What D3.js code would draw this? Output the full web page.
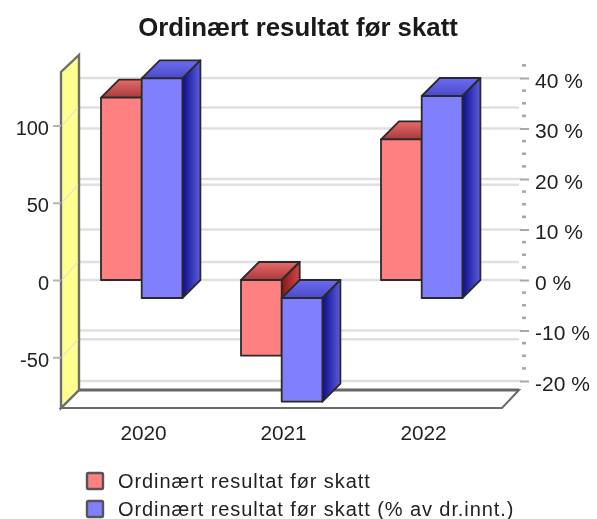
<!DOCTYPE html>
<html><head><meta charset="utf-8">
<script src="https://d3js.org/d3.v7.min.js"></script>
<style>html,body{margin:0;padding:0;background:#fff}svg{display:block;filter:blur(0.55px)}text{font-family:"Liberation Sans",Arial,sans-serif}</style>
</head><body><svg id="c" width="597" height="519"></svg>
<script>
const titleText = "Ordinært resultat før skatt";
const years = ["2020","2021","2022"];
const seriesNames = ["Ordinært resultat før skatt","Ordinært resultat før skatt (% av dr.innt.)"];
const resultValues = [118,-49,91];
const percentValues = [43.5,-20.5,40];
const leftTicks = [100,50,0,-50];
const rightTicks = [40,30,20,10,0,-10,-20];
const minorTicks = [42.5,37.5,35,32.5,27.5,25,22.5,17.5,15,12.5,7.5,5,2.5,-2.5,-5,-7.5,-12.5,-15,-17.5];

const svg = d3.select("#c");
const depth = 18;
const yL = d3.scaleLinear().domain([0,100]).range([280,125.5]);
const yR = d3.scaleLinear().domain([0,40]).range([280,78]);
const x = d3.scaleBand().domain(years).range([61,481]).paddingInner(0).paddingOuter(0);
const wallX = 61, floorY = 408, wallTop = 72, floorRight = 502;
const barW = 40.7;
const fmtMinus = d => String(d);
const defs = svg.append("defs");
function grad(id,c1,c2,horizontal){
  const g = defs.append("linearGradient").attr("id",id).attr("x1",0).attr("y1",0).attr("x2",horizontal?1:0).attr("y2",horizontal?0:1);
  g.append("stop").attr("offset",0).attr("stop-color",c1);
  g.append("stop").attr("offset",1).attr("stop-color",c2);
}
grad("redTop","#e86a6a","#a83a3a",false);
grad("redSide","#8a1616","#d04848",true);
grad("blueTop","#6c6cf0","#4a4ac8",false);
grad("blueSide","#0c0c8c","#5c5ce0",true);

// back-wall gridlines
const grid = svg.append("g").attr("stroke","#e0e0e0").attr("stroke-width",2.6);
rightTicks.forEach(t=>grid.append("line").attr("x1",wallX+depth).attr("x2",521).attr("y1",yR(t)).attr("y2",yR(t)));
leftTicks.forEach(t=>grid.append("line").attr("x1",wallX+depth).attr("x2",519).attr("y1",yL(t)-depth).attr("y2",yL(t)-depth));

// floor
svg.append("path").attr("d",`M${wallX},${floorY}L${wallX+depth},${floorY-depth}H${floorRight+depth-1}L${floorRight},${floorY}Z`)
  .attr("fill","#fff").attr("stroke","#6a6a6a").attr("stroke-width",2);
svg.append("line").attr("x1",wallX+depth).attr("x2",floorRight+depth-1).attr("y1",floorY-depth).attr("y2",floorY-depth).attr("stroke","#666").attr("stroke-width",3);

// side wall
svg.append("path").attr("d",`M${wallX},${floorY}V${wallTop}L${wallX+depth},${wallTop-depth+1}V${floorY-depth}Z`)
  .attr("fill","#ffff90").attr("stroke","#6e6e6e").attr("stroke-width",2.4);
leftTicks.forEach(t=>svg.append("line").attr("x1",wallX+1).attr("x2",wallX+depth-1).attr("y1",yL(t)).attr("y2",yL(t)-depth).attr("stroke","#e6e6c0").attr("stroke-width",1.2));

// bars
function bar(x0,y0,y1,front,top,side){
  const g = svg.append("g").attr("stroke","#2a2a2a").attr("stroke-width",1.8).attr("stroke-linejoin","round");
  const yTop=Math.min(y0,y1), yBot=Math.max(y0,y1);
  g.append("path").attr("d",`M${x0},${yTop}L${x0+depth},${yTop-depth}H${x0+barW+depth}L${x0+barW},${yTop}Z`).attr("fill",top);
  g.append("path").attr("d",`M${x0+barW},${yTop}L${x0+barW+depth},${yTop-depth}V${yBot-depth}L${x0+barW},${yBot}Z`).attr("fill",side);
  g.append("rect").attr("x",x0).attr("y",yTop).attr("width",barW).attr("height",yBot-yTop).attr("fill",front);
}
years.forEach((yr,i)=>{
  const x0 = x(yr)+40;
  bar(x0,yL(0),yL(resultValues[i]),"#ff8080","url(#redTop)","url(#redSide)");
  bar(x0+barW,yR(0)+depth,yR(percentValues[i])+depth,"#8080ff","url(#blueTop)","url(#blueSide)");
});

// left axis
const axL = svg.append("g").attr("transform",`translate(${wallX},0)`).call(d3.axisLeft(yL).tickValues(leftTicks).tickSize(8).tickPadding(4).tickFormat(fmtMinus));
axL.select(".domain").remove();
axL.selectAll("line").attr("stroke","#b4b4b4").attr("stroke-width",2);
axL.selectAll("text").attr("font-size",20).attr("fill","#222").attr("dy","0.45em");

// right axis
const axR = svg.append("g").attr("transform","translate(520,0)").call(d3.axisRight(yR).tickValues(rightTicks).tickSize(9).tickPadding(6).tickFormat(d=>d+" %"));
axR.select(".domain").remove();
axR.selectAll("line").attr("stroke","#a8a8a8").attr("stroke-width",2);
axR.selectAll("text").attr("font-size",21).attr("fill","#222").attr("dy","0.45em");
svg.append("g").selectAll("line").data(minorTicks).join("line")
  .attr("x1",522).attr("x2",526).attr("y1",d=>yR(d)).attr("y2",d=>yR(d)).attr("stroke","#a8a8a8").attr("stroke-width",2.6);

// x axis
const xLab = d3.scalePoint().domain(years).range([143,423]);
const axX = svg.append("g").attr("transform","translate(0,419)").call(d3.axisBottom(xLab).tickSize(0).tickPadding(6));
axX.select(".domain").remove();
axX.selectAll("text").attr("font-size",20.8).attr("fill","#222");

// title
svg.append("text").attr("x",298).attr("y",36).attr("text-anchor","middle").attr("font-size",25.8).attr("font-weight","bold").attr("fill","#1a1a1a").text(titleText);

// legend
const legendColors = ["#ff8080","#8080ff"];
const lg = svg.append("g").selectAll("g").data(seriesNames).join("g").attr("transform",(d,i)=>`translate(87,${473+i*28})`);
lg.append("rect").attr("width",16).attr("height",16).attr("rx",1.5).attr("fill",(d,i)=>legendColors[i]).attr("stroke","#555").attr("stroke-width",2.4);
lg.append("text").attr("x",31).attr("y",14.5).attr("font-size",20).attr("letter-spacing",0.92).attr("fill","#222").text(d=>d);
</script></body></html>
